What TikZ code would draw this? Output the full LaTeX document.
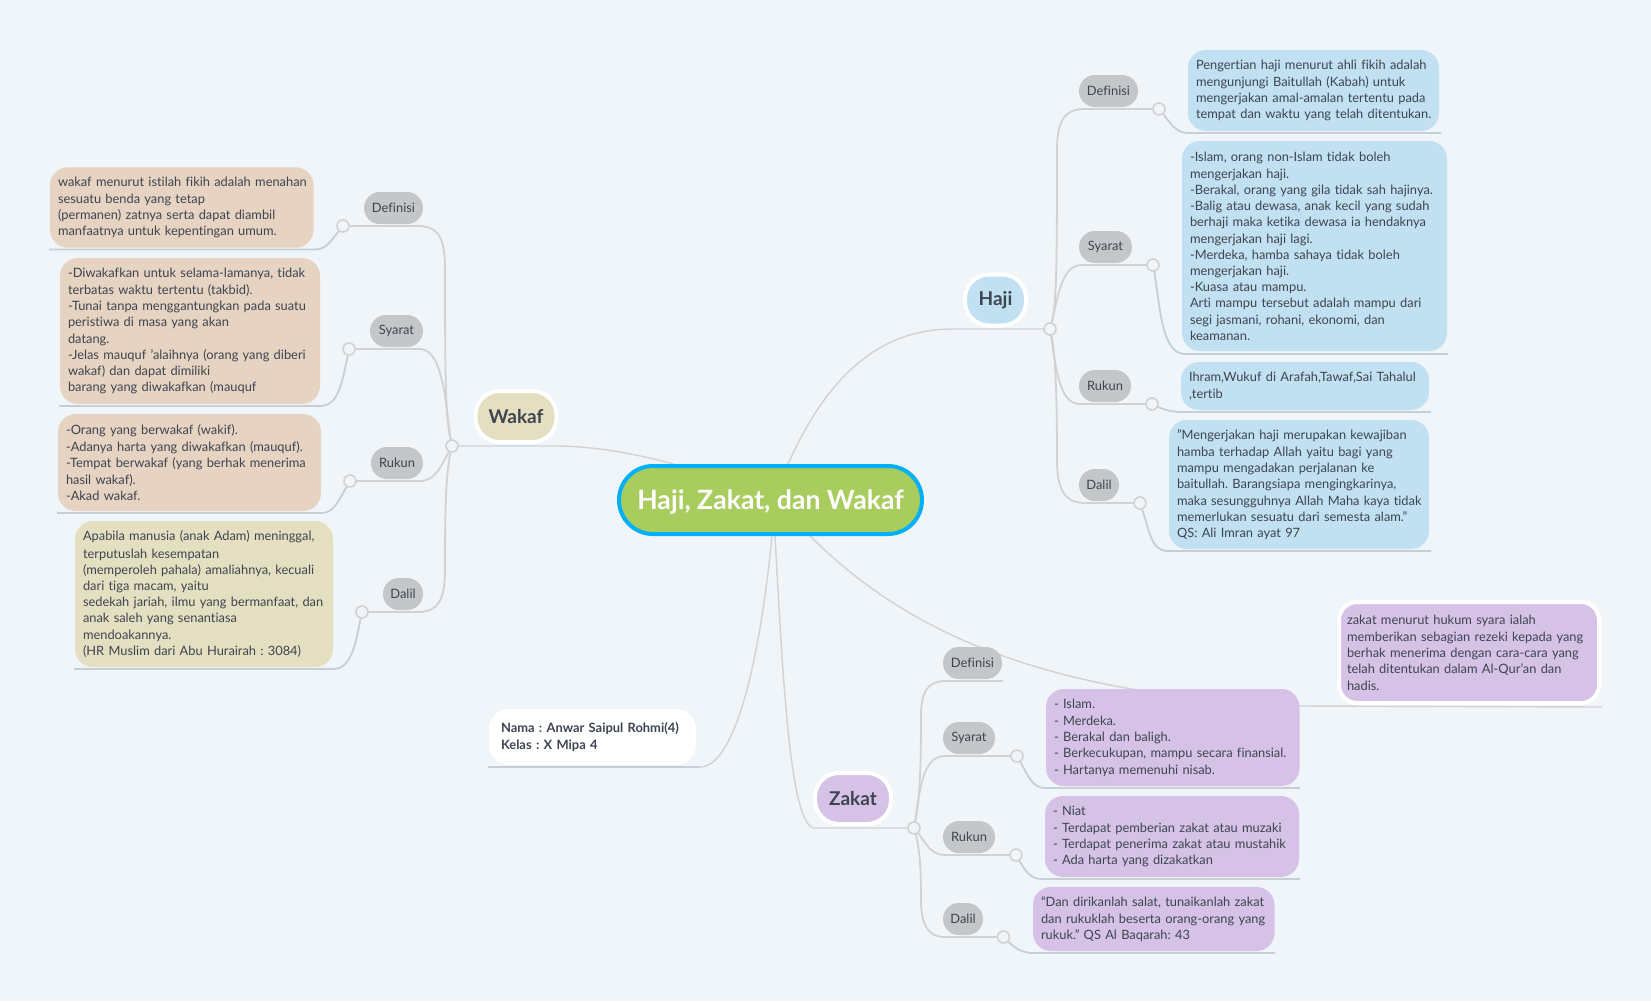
\documentclass[tikz,border=0pt]{standalone}
\usepackage{fontspec}
\setmainfont{Lato}[RawFeature=-liga]
\AtBeginDocument{\frenchspacing}
\usetikzlibrary{calc}
\pgfdeclarelayer{lines}
\pgfsetlayers{lines,main}
\definecolor{bgc}{HTML}{F0F5F9}
\definecolor{conn}{HTML}{CFD3D6}
\definecolor{ulc}{HTML}{C8CED3}
\definecolor{txt}{HTML}{3D4550}
\definecolor{pillc}{HTML}{C3C7CA}
\definecolor{bluec}{HTML}{C1E0F1}
\definecolor{beigec}{HTML}{E6D3C1}
\definecolor{yelc}{HTML}{E4DFC0}
\definecolor{purc}{HTML}{D5C2E6}
\definecolor{rootc}{HTML}{A9CC5F}
\definecolor{rootb}{HTML}{00B0F5}
\tikzset{
  base/.style={inner sep=0pt,outer sep=0pt,rectangle,text=txt},
  tb/.style 2 args={base,minimum width=#1 pt,minimum height=#2 pt,text width=#1 pt-16pt,inner xsep=8pt,rounded corners=18pt,align=left,font=\fontsize{12.85}{16.2}\selectfont,execute at begin node={\rightskip=-20pt plus 1fil\relax\hyphenpenalty=10000\vspace*{1pt}}},
  pill/.style 2 args={base,fill=pillc,minimum width=#1 pt,minimum height=#2 pt,rounded corners=15.9pt,font=\fontsize{12.9}{16.2}\selectfont},
  topic/.style={base,draw=white,line width=4pt,rounded corners=24pt,minimum height=51pt,font=\fontsize{19}{22}\bfseries\selectfont},
  hubc/.style={circle,draw=conn,fill=bgc,line width=1.6pt,minimum size=12pt,inner sep=0pt,outer sep=0pt},
  br/.style={draw=conn,line width=1.8pt},
  rl/.style={draw=conn,line width=1.4pt},
  ul/.style={draw=ulc,line width=1.8pt}
}
\begin{document}
\begin{tikzpicture}[x=1pt,y=-1pt]
\useasboundingbox (0,0) rectangle (1651,1001);
% root
\node[base,fill=rootc,draw=rootb,line width=4pt,minimum width=303pt,minimum height=68pt,rounded corners=34pt,text=white,font=\fontsize{26.6}{30}\bfseries\selectfont] (root) at (770.5,500) {\raisebox{-2pt}[\height][\depth]{Haji, Zakat, dan Wakaf}};
% topics
\node[topic,fill=yelc,minimum width=81pt] (wakaf) at (516,416.5) {Wakaf};
\node[topic,fill=bluec,minimum width=61pt] (haji) at (995.5,300) {Haji};
\node[topic,fill=purc,minimum width=76pt] (zakat) at (853,798.5) {Zakat};
\node[base,fill=white,minimum width=207pt,minimum height=56pt,rounded corners=20pt,text width=183pt,inner xsep=12pt,align=left,font=\fontsize{12.9}{16.2}\bfseries\selectfont] (nama) at (592.5,737) {Nama : Anwar Saipul Rohmi(4)\\Kelas : X Mipa 4};
% hubs
\node[hubc] (hw) at (452,446) {};
\node[hubc] (hh) at (1050,329) {};
\node[hubc] (hz) at (914,828) {};
% Wakaf
\node[pill={59}{32}] (wp1) at (393.5,208) {Definisi};
\node[pill={53}{32}] (wp2) at (396.5,331) {Syarat};
\node[pill={52}{32}] (wp3) at (397,463) {Rukun};
\node[pill={40}{32}] (wp4) at (403,594) {Dalil};
\node[hubc] (wc1) at (343,226) {};
\node[hubc] (wc2) at (349,349) {};
\node[hubc] (wc3) at (350,481) {};
\node[hubc] (wc4) at (362,612) {};
\node[tb={263.6}{80.4},fill=beigec] (wb1) at (181.8,207.5) {wakaf menurut istilah fikih adalah menahan\\sesuatu benda yang tetap\\(permanen) zatnya serta dapat diambil\\manfaatnya untuk kepentingan umum.};
\node[tb={260}{146},fill=beigec] (wb2) at (190,331) {-Diwakafkan untuk selama-lamanya, tidak\\terbatas waktu tertentu (takbid).\\-Tunai tanpa menggantungkan pada suatu\\peristiwa di masa yang akan\\datang.\\-Jelas mauquf ’alaihnya (orang yang diberi\\wakaf) dan dapat dimiliki\\barang yang diwakafkan (mauquf};
\node[tb={263}{97},fill=beigec] (wb3) at (189.5,462.5) {-Orang yang berwakaf (wakif).\\-Adanya harta yang diwakafkan (mauquf).\\-Tempat berwakaf (yang berhak menerima\\hasil wakaf).\\-Akad wakaf.};
\node[tb={258}{146},fill=yelc] (wb4) at (204,594) {Apabila manusia (anak Adam) meninggal,\\terputuslah kesempatan\\(memperoleh pahala) amaliahnya, kecuali\\dari tiga macam, yaitu\\sedekah jariah, ilmu yang bermanfaat, dan\\anak saleh yang senantiasa\\mendoakannya.\\(HR Muslim dari Abu Hurairah : 3084)};
% Haji
\node[pill={59}{32}] (hp1) at (1108.5,91) {Definisi};
\node[pill={53}{32}] (hp2) at (1105.5,247) {Syarat};
\node[pill={52}{32}] (hp3) at (1105,386) {Rukun};
\node[pill={40}{32}] (hp4) at (1099,485) {Dalil};
\node[hubc] (hc1) at (1159,109) {};
\node[hubc] (hc2) at (1153,265) {};
\node[hubc] (hc3) at (1152,404) {};
\node[hubc] (hc4) at (1140,503) {};
\node[tb={251}{81},fill=bluec] (hb1) at (1313.5,90.5) {Pengertian haji menurut ahli fikih adalah\\mengunjungi Baitullah (Kabah) untuk\\mengerjakan amal-amalan tertentu pada\\tempat dan waktu yang telah ditentukan.};
\node[tb={265}{210},fill=bluec] (hb2) at (1314.5,246) {-Islam, orang non-Islam tidak boleh\\mengerjakan haji.\\-Berakal, orang yang gila tidak sah hajinya.\\-Balig atau dewasa, anak kecil yang sudah\\berhaji maka ketika dewasa ia hendaknya\\mengerjakan haji lagi.\\-Merdeka, hamba sahaya tidak boleh\\mengerjakan haji.\\-Kuasa atau mampu.\\Arti mampu tersebut adalah mampu dari\\segi jasmani, rohani, ekonomi, dan\\keamanan.};
\node[tb={248}{48},fill=bluec] (hb3) at (1305,386) {Ihram,Wukuf di Arafah,Tawaf,Sai Tahalul\\,tertib};
\node[tb={260}{129},fill=bluec] (hb4) at (1299,484.5) {"Mengerjakan haji merupakan kewajiban\\hamba terhadap Allah yaitu bagi yang\\mampu mengadakan perjalanan ke\\baitullah. Barangsiapa mengingkarinya,\\maka sesungguhnya Allah Maha kaya tidak\\memerlukan sesuatu dari semesta alam.”\\QS: Ali Imran ayat 97};
% Zakat
\node[pill={59}{32}] (zp1) at (972.5,663) {Definisi};
\node[pill={52}{32}] (zp2) at (969,738) {Syarat};
\node[pill={52}{32}] (zp3) at (969,837) {Rukun};
\node[pill={40}{32}] (zp4) at (963,919) {Dalil};
\node[hubc] (zc2) at (1017,756) {};
\node[hubc] (zc3) at (1016,855) {};
\node[hubc] (zc4) at (1003.5,937) {};
\node[tb={260}{101},fill=purc,draw=white,line width=4pt] (zb1) at (1469,652.5) {zakat menurut hukum syara ialah\\memberikan sebagian rezeki kepada yang\\berhak menerima dengan cara-cara yang\\telah ditentukan dalam Al-Qur’an dan\\hadis.};
\node[tb={253.5}{97},fill=purc] (zb2) at (1172.75,737.5) {- Islam.\\- Merdeka.\\- Berakal dan baligh.\\- Berkecukupan, mampu secara finansial.\\- Hartanya memenuhi nisab.};
\node[tb={254}{81},fill=purc] (zb3) at (1172,836.5) {- Niat\\- Terdapat pemberian zakat atau muzaki\\- Terdapat penerima zakat atau mustahik\\- Ada harta yang dizakatkan};
\node[tb={241.5}{64},fill=purc] (zb4) at (1153.75,919) {“Dan dirikanlah salat, tunaikanlah zakat\\dan rukuklah beserta orang-orang yang\\rukuk.” QS Al Baqarah: 43};
% free ends of the underlines
\coordinate (ew1) at (49,249.5); \coordinate (ew2) at (59,406); \coordinate (ew3) at (57,513); \coordinate (ew4) at (74,669);
\coordinate (eh1) at (1441,133); \coordinate (eh2) at (1448,354); \coordinate (eh3) at (1431,412); \coordinate (eh4) at (1431,551);
\coordinate (ez1) at (1602,707); \coordinate (ez2) at (1300,788); \coordinate (ez3) at (1300,879); \coordinate (ez4) at (1275,953);
\coordinate (ep1) at (1003,681);
\coordinate (en) at (488,767);
\begin{pgfonlayer}{lines}
\fill[bgc] (0,0) rectangle (1651,1001);
% root connectors
\draw[rl] (root.center) ++(-93.5,-35) .. controls (630,452) and (590,446) .. (553,446) -- (hw.center);
\draw[rl] (root.center) ++(17.5,-36) .. controls (828,375) and (880,329) .. (953,329) -- (hh.center);
\draw[rl] (root.center) ++(4.5,36) .. controls (783,680) and (790,828) .. (815,828) -- (hz.center);
\draw[rl] (root.center) ++(1.5,36) .. controls (760,660) and (735,767) .. (700,767);
\draw[ul] (700,767) -- (en);
\draw[rl] (root.center) ++(39.5,36) .. controls (900,625) and (1030,695) .. (1300,706) -- (ez1);
% Wakaf branches
\draw[br] (hw.center) .. controls (446,420) and (445,400) .. (445,270) .. controls (445,240) and (440,226) .. (418,226) -- (wc1.center);
\draw[br] (hw.center) .. controls (446,420) and (446,349) .. (420,349) -- (wc2.center);
\draw[br] (hw.center) .. controls (440,468) and (435,481) .. (420,481) -- (wc3.center);
\draw[br] (hw.center) .. controls (446,470) and (445,500) .. (445,570) .. controls (445,600) and (438,612) .. (418,612) -- (wc4.center);
\draw[ul] (wc1.center) .. controls (331,240) and (327,249.5) .. (315,249.5) -- (ew1);
\draw[ul] (wc2.center) .. controls (342,385) and (338,406) .. (320,406) -- (ew2);
\draw[ul] (wc3.center) .. controls (340,497) and (335,513) .. (322,513) -- (ew3);
\draw[ul] (wc4.center) .. controls (356,640) and (353,669) .. (333,669) -- (ew4);
% Haji branches
\draw[br] (hh.center) .. controls (1056,310) and (1057,290) .. (1057,150) .. controls (1057,120) and (1065,109) .. (1085,109) -- (hc1.center);
\draw[br] (hh.center) .. controls (1058,300) and (1060,265) .. (1082,265) -- (hc2.center);
\draw[br] (hh.center) .. controls (1056,365) and (1058,404) .. (1080,404) -- (hc3.center);
\draw[br] (hh.center) .. controls (1054,345) and (1057,370) .. (1057,460) .. controls (1057,490) and (1065,503) .. (1085,503) -- (hc4.center);
\draw[ul] (hc1.center) .. controls (1170,122) and (1175,133) .. (1188,133) -- (eh1);
\draw[ul] (hc2.center) .. controls (1160,300) and (1160,354) .. (1185,354) -- (eh2);
\draw[ul] (hc3.center) .. controls (1160,408) and (1168,412) .. (1182,412) -- (eh3);
\draw[ul] (hc4.center) .. controls (1150,530) and (1150,551) .. (1168,551) -- (eh4);
% Zakat branches
\draw[br] (hz.center) .. controls (918,810) and (921,790) .. (921,715) .. controls (921,692) and (928,681) .. (945,681) -- (ep1);
\draw[br] (hz.center) .. controls (920,790) and (922,756) .. (945,756) -- (zc2.center);
\draw[br] (hz.center) .. controls (924,838) and (928,855) .. (945,855) -- (zc3.center);
\draw[br] (hz.center) .. controls (919,845) and (921,860) .. (921,900) .. controls (921,925) and (928,937) .. (945,937) -- (zc4.center);
\draw[ul] (zc2.center) .. controls (1026,770) and (1030,788) .. (1045,788) -- (ez2);
\draw[ul] (zc3.center) .. controls (1024,868) and (1028,879) .. (1042,879) -- (ez3);
\draw[ul] (zc4.center) .. controls (1012,945) and (1018,953) .. (1034,953) -- (ez4);
\end{pgfonlayer}
\end{tikzpicture}
\end{document}
